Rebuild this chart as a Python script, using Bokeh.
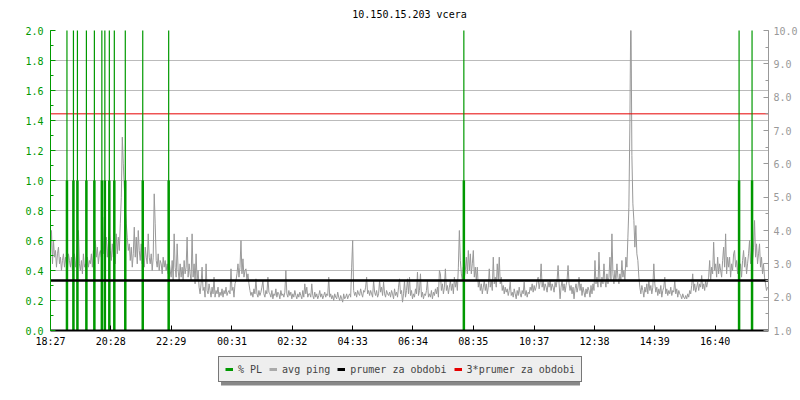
from bokeh.plotting import figure
from bokeh.layouts import column
from bokeh.models import (Range1d, LinearAxis, FixedTicker, SingleIntervalTicker,
                          PrintfTickFormatter, Legend, LegendItem, Grid)
from bokeh.embed import file_html
from bokeh.resources import INLINE

title_text = "10.150.15.203 vcera"
start_label = "18:27"
period_min = 1440
sample_step_min = 2

tick_labels = ["18:27", "20:28", "22:29", "00:31", "02:32", "04:33",
               "06:34", "08:35", "10:37", "12:38", "14:39", "16:40"]

legend_labels = ["% PL", "avg ping", "prumer za obdobi", "3*prumer za obdobi"]

# avg ping (ms), one value every 2 minutes starting 18:27
ping_ms = [
    3.3, 4.0, 3.0, 3.7, 3.2, 3.4, 2.9, 3.3, 3.5, 3.0, 3.2, 2.8, 3.1, 3.3, 2.9, 3.2, 3.0, 2.8, 3.3, 3.1,
    2.9, 3.2, 2.8, 3.1, 3.3, 2.9, 3.2, 3.6, 4.0, 3.0, 2.8, 3.1, 2.7, 3.3, 2.9, 3.0, 2.8, 3.2, 2.9, 3.1,
    3.0, 3.3, 2.9, 3.4, 3.1, 3.7, 3.2, 3.5, 3.0, 3.3, 3.4, 3.2, 3.6, 3.3, 4.4, 3.5, 3.8, 3.2, 3.6, 4.0,
    3.4, 3.1, 3.6, 3.2, 3.5, 3.0, 3.9, 3.3, 3.8, 3.4, 4.2, 5.0, 6.8, 6.0, 5.3, 4.7, 4.2, 3.8, 3.4, 3.6,
    3.1, 3.5, 2.9, 3.3, 4.1, 3.2, 3.8, 3.0, 4.0, 3.4, 3.1, 3.6, 3.0, 3.3, 2.9, 3.5, 3.2, 3.0, 3.9, 3.2,
    3.0, 3.3, 2.8, 3.2, 5.1, 4.2, 3.1, 2.9, 3.3, 2.8, 3.1, 3.0, 2.7, 3.2, 2.9, 3.1, 2.8, 3.0, 2.7, 3.1,
    2.8, 2.6, 3.1, 2.5, 3.9, 2.9, 2.6, 3.6, 2.8, 2.5, 3.0, 2.6, 2.9, 2.5, 3.1, 2.7, 2.9, 3.8, 2.6, 3.0,
    2.7, 2.5, 3.9, 2.6, 3.0, 2.4, 3.3, 2.5, 2.8, 2.3, 2.1, 2.4, 2.9, 2.2, 2.3, 2.0, 3.0, 2.2, 2.1, 2.4,
    2.2, 2.0, 2.3, 2.1, 2.6, 2.0, 2.2, 2.1, 2.3, 2.0, 2.15, 2.05, 2.25, 2.0, 2.2, 2.1, 2.3, 2.05, 2.15, 2.2,
    2.1, 2.85, 2.2, 2.3, 2.0, 2.4, 2.5, 2.7, 3.0, 2.6, 2.9, 3.7, 2.7, 3.15, 2.6, 2.8, 2.85, 2.5, 2.7, 2.4,
    2.2, 2.05, 2.15, 2.0, 2.25, 2.1, 2.55, 2.1, 2.0, 2.2, 2.05, 2.15, 2.3, 2.5, 2.1, 2.0, 2.2, 2.1, 2.6, 2.15,
    2.1, 2.0, 2.2, 1.95, 2.1, 2.05, 2.25, 2.0, 2.15, 2.1, 1.95, 2.2, 2.05, 2.1, 2.0, 2.15, 2.8, 2.1, 2.0, 2.2,
    2.05, 2.15, 1.95, 2.1, 2.0, 2.2, 2.05, 1.95, 2.1, 2.0, 2.15, 2.05, 1.95, 2.2, 2.0, 2.4, 2.1, 2.3, 2.0, 2.1,
    2.1, 2.0, 2.4, 2.05, 1.95, 2.15, 2.0, 2.1, 1.95, 2.05, 2.2, 2.0, 2.1, 1.95, 2.05, 2.15, 2.0, 2.1, 2.05, 2.6,
    2.0, 2.1, 1.95, 2.05, 1.9, 2.1, 2.0, 1.95, 2.15, 2.0, 1.9, 2.05, 1.95, 1.85, 2.1, 1.95, 2.0, 2.1, 1.95, 2.05,
    2.1, 2.0, 2.9, 3.7, 2.2, 2.05, 2.15, 2.0, 2.2, 2.1, 2.05, 2.25, 2.1, 2.0, 2.2, 2.15, 2.3, 2.6, 2.1, 2.2,
    2.05, 2.2, 2.1, 2.0, 2.5, 2.15, 2.05, 2.2, 2.0, 2.1, 2.5, 2.15, 2.3, 2.05, 2.45, 2.1, 2.0, 2.2, 2.1, 2.05,
    2.15, 2.0, 2.2, 2.1, 1.95, 2.25, 2.05, 2.15, 2.0, 2.3, 2.55, 2.1, 2.2, 1.85, 2.1, 2.5, 2.0, 2.2, 2.55, 2.1,
    2.6, 2.05, 2.2, 1.95, 2.1, 2.0, 2.25, 2.1, 2.75, 2.05, 2.2, 2.7, 2.0, 2.15, 1.95, 2.1, 2.05, 2.2, 2.5, 2.0,
    2.1, 2.0, 2.2, 1.95, 2.15, 2.05, 2.25, 2.1, 2.3, 2.0, 2.8, 2.7, 2.2, 2.4, 2.1, 2.3, 2.85, 2.2, 2.35, 2.1,
    2.3, 2.5, 2.2, 2.4, 2.1, 2.6, 2.3, 2.5, 2.2, 2.9, 4.0, 3.1, 2.7, 2.5, 2.9, 2.6, 2.8, 3.2, 2.7, 3.4,
    2.8, 3.3, 2.7, 3.0, 3.4, 2.6, 2.9, 2.5, 2.9, 2.3, 2.5, 2.2, 2.4, 2.1, 2.3, 2.5, 2.2, 2.4, 2.1, 2.3,
    2.85, 2.3, 2.5, 2.2, 3.2, 2.4, 2.6, 2.3, 3.0, 2.5, 3.2, 2.4, 2.6, 2.2, 2.35, 2.1, 2.3, 2.15, 2.25, 2.05,
    2.2, 2.45, 2.05, 2.15, 2.0, 2.25, 2.1, 1.95, 2.2, 2.05, 2.3, 2.1, 2.0, 2.2, 2.1, 2.45, 2.05, 2.2, 2.0, 2.15,
    2.1, 2.3, 2.2, 2.4, 2.15, 2.35, 2.2, 2.3, 2.5, 2.6, 2.25, 2.45, 3.0, 2.3, 2.5, 2.2, 2.4, 2.3, 2.15, 2.45,
    2.3, 2.5, 2.2, 2.4, 2.3, 2.15, 2.45, 2.3, 2.5, 2.95, 2.4, 1.95, 2.3, 2.5, 2.2, 2.4, 2.15, 2.35, 2.5, 2.95,
    2.4, 2.2, 2.35, 2.1, 2.3, 1.95, 2.25, 2.4, 2.15, 2.3, 2.6, 2.2, 2.4, 2.05, 2.3, 2.15, 2.0, 2.25, 2.1, 2.3,
    2.2, 2.0, 2.35, 2.1, 2.4, 2.2, 3.1, 2.4, 2.6, 2.3, 3.35, 2.5, 2.3, 2.6, 2.4, 3.0, 2.5, 2.3, 2.7, 2.4,
    2.6, 3.2, 2.5, 3.9, 2.7, 2.4, 2.8, 2.5, 3.0, 2.6, 2.4, 2.7, 2.5, 3.1, 2.6, 2.8, 2.5, 3.2, 2.9, 3.8,
    4.7, 7.2, 11.0, 6.25, 4.8, 4.3, 3.5, 4.15, 3.3, 3.1, 2.6, 2.3, 2.1, 2.35, 2.2, 2.0, 2.3, 2.15, 2.4, 2.1,
    2.5, 2.2, 2.35, 2.1, 2.3, 3.0, 2.4, 2.15, 2.3, 2.05, 2.25, 2.1, 2.35, 2.0, 2.2, 2.3, 2.6, 2.1, 2.25, 2.05,
    2.2, 2.1, 2.3, 2.05, 2.2, 2.15, 2.5, 2.1, 2.25, 2.0, 2.2, 2.1, 2.05, 1.95, 2.1, 2.0, 1.95, 2.05, 1.95, 2.1,
    2.0, 2.2, 2.1, 2.35, 2.7, 2.2, 2.4, 2.15, 2.3, 2.45, 2.2, 2.4, 2.3, 2.65, 2.25, 2.4, 2.2, 2.5, 2.3, 2.45,
    2.6, 3.1, 2.5, 2.9, 2.7, 3.65, 2.8, 3.0, 2.6, 3.2, 2.7, 3.0, 2.8, 2.6, 3.1, 3.5, 2.9, 3.9, 2.7, 3.2,
    2.9, 3.2, 2.6, 3.0, 2.8, 3.3, 3.4, 2.9, 3.1, 2.7, 3.2, 2.8, 3.0, 2.6, 3.1, 3.4, 2.9, 3.2, 2.7, 3.0,
    3.3, 3.7, 3.0, 3.4, 3.1, 3.5, 4.3, 3.2, 3.6, 3.0, 3.3, 3.6, 2.9, 3.2, 2.7, 3.0, 2.6, 2.4, 2.2, 2.3,
]

# packet loss events (minutes after 18:27), two consecutive readings (%)
pl_time_min = [33, 46, 54, 72, 88, 103, 109, 118, 128, 150, 185, 237, 829, 1381, 1407]
pl_first = [1.0, 1.0, 1.0, 1.0, 1.0, 1.0, 1.0, 1.0, 1.0, 1.0, 1.0, 1.0, 1.0, 1.0, 1.0]
pl_second = [3.0, 3.0, 3.0, 3.0, 3.0, 3.0, 3.0, 3.0, 3.0, 3.0, 3.0, 3.0, 3.0, 3.0, 3.0]

prumer = 2.5  # average over the period (ms)

GREEN = "#009900"
GRAY = "#999999"
RED = "#e60000"
FONT = "DejaVu Sans Mono"

BORDER_L, BORDER_R = 50, 30


def minutes_after_start(lbl):
    h, m = map(int, lbl.split(":"))
    sh, sm = map(int, start_label.split(":"))
    return (h * 60 + m - (sh * 60 + sm)) % 1440


tick_pos = [minutes_after_start(t) for t in tick_labels]
ping_x = [i * sample_step_min for i in range(len(ping_ms))]

p = figure(width=800, height=350, output_backend="svg", toolbar_location=None,
           x_range=Range1d(0, period_min), y_range=Range1d(0, 2),
           x_axis_type=None, y_axis_type=None, title=title_text,
           min_border_left=BORDER_L, min_border_right=BORDER_R, min_border_top=30,
           min_border_bottom=20)
p.extra_y_ranges = {"ping": Range1d(1, 10)}
p.outline_line_color = None
p.background_fill_color = "white"
p.border_fill_color = "white"

p.title.align = "center"
p.title.text_font = FONT
p.title.text_font_size = "10px"
p.title.text_font_style = "normal"
p.title.text_color = "black"
p.title.standoff = 17
p.title.vertical_align = "top"

# axes
left = LinearAxis(ticker=SingleIntervalTicker(interval=0.2, num_minor_ticks=2),
                  formatter=PrintfTickFormatter(format="%.1f"))
left.axis_line_color = GREEN
left.major_tick_line_color = GREEN
left.minor_tick_line_color = GREEN
left.major_label_text_color = GREEN
left.major_tick_in = 5
left.major_tick_out = 0
left.minor_tick_in = 3
left.minor_tick_out = 0
left.major_label_standoff = 7
left.major_label_text_font = FONT
left.major_label_text_font_size = "10px"
p.add_layout(left, "left")

right = LinearAxis(y_range_name="ping",
                   ticker=SingleIntervalTicker(interval=1, num_minor_ticks=2),
                   formatter=PrintfTickFormatter(format="%.1f"))
right.axis_line_color = GRAY
right.major_tick_line_color = GRAY
right.minor_tick_line_color = GRAY
right.major_label_text_color = GRAY
right.major_tick_in = 5
right.major_tick_out = 0
right.minor_tick_in = 3
right.minor_tick_out = 0
right.major_label_standoff = 5
right.major_label_text_font = FONT
right.major_label_text_font_size = "10px"
p.add_layout(right, "right")

bottom = LinearAxis(ticker=FixedTicker(ticks=tick_pos, minor_ticks=[]))
bottom.major_label_overrides = {t: l for t, l in zip(tick_pos, tick_labels)}
bottom.axis_line_color = "black"
bottom.axis_line_width = 2
bottom.major_tick_in = 5
bottom.major_tick_out = 0
bottom.minor_tick_line_color = None
bottom.major_label_standoff = 5
bottom.major_label_text_color = "black"
bottom.major_label_text_font = FONT
bottom.major_label_text_font_size = "10px"
p.add_layout(bottom, "below")

p.add_layout(Grid(dimension=1, ticker=left.ticker, grid_line_color="#bbbbbb"))

# data
p.line(ping_x, ping_ms, y_range_name="ping", line_color=GRAY, line_width=1)
p.line([0, period_min], [3 * prumer, 3 * prumer], y_range_name="ping",
       line_color=RED, line_width=1)
p.segment(x0=pl_time_min, y0=[0] * len(pl_time_min), x1=pl_time_min, y1=pl_first,
          line_color=GREEN, line_width=2.5)
p.segment(x0=pl_time_min, y0=[0] * len(pl_time_min), x1=pl_time_min, y1=pl_second,
          line_color=GREEN, line_width=1.2)
p.line([0, period_min], [prumer, prumer], y_range_name="ping",
       line_color="black", line_width=2.5)

# ---- legend strip below the chart (frame aligned with the chart frame) ----
LW, LH = 800, 50
FW = LW - BORDER_L - BORDER_R
lg = figure(width=LW, height=LH, output_backend="svg", toolbar_location=None,
            x_range=Range1d(0, FW), y_range=Range1d(LH, 0),
            x_axis_type=None, y_axis_type=None,
            min_border_left=BORDER_L, min_border_right=BORDER_R, min_border_top=0,
            min_border_bottom=0)
lg.outline_line_color = None
lg.xgrid.visible = False
lg.ygrid.visible = False
lg.background_fill_color = "white"
lg.border_fill_color = "white"

# legend box position relative to the chart frame's left edge
box_left, box_top, box_w, box_h, shadow_off = 168, 10, 360, 22, 3
lg.quad(left=[box_left + shadow_off], right=[box_left + box_w + shadow_off],
        top=[box_top + shadow_off], bottom=[box_top + box_h + shadow_off],
        fill_color="#888888", line_color=None)

key_colors = [GREEN, "#aaaaaa", "black", RED]
nan = float("nan")
key_renderers = [lg.line(x=[nan], y=[nan], line_color=c, line_width=3) for c in key_colors]

legend = Legend(items=[LegendItem(label=l, renderers=[r])
                       for l, r in zip(legend_labels, key_renderers)],
                orientation="horizontal", location=(box_left, LH - box_top - box_h),
                background_fill_color="#eeeeee", background_fill_alpha=1,
                border_line_color="black", border_line_width=1,
                label_text_font=FONT, label_text_font_size="10px",
                glyph_width=8, glyph_height=12, label_height=12,
                label_standoff=5, spacing=7, padding=6, margin=0)
lg.add_layout(legend)

open("out.html", "w").write(file_html(column(p, lg, spacing=0), INLINE))
